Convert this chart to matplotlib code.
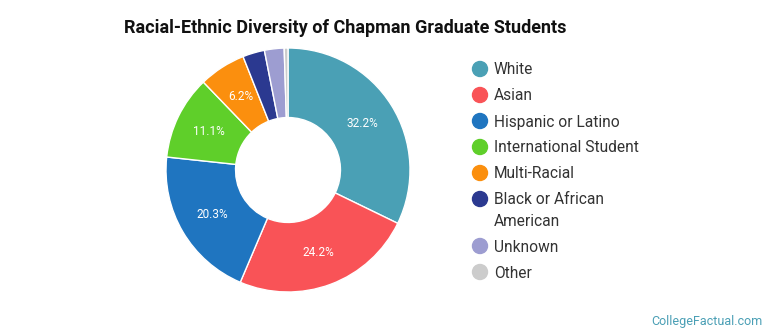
import matplotlib.pyplot as plt
from matplotlib.patches import Circle
import numpy as np

# --- data ---
categories = ['White', 'Asian', 'Hispanic or Latino', 'International Student',
              'Multi-Racial', 'Black or African\nAmerican', 'Unknown', 'Other']
shares = [32.2, 24.2, 20.3, 11.1, 6.2, 2.9, 2.6, 0.5]
colors = ['#4aa0b5', '#f95357', '#1f75c0', '#5fcf2a', '#fb8f0e',
          '#2b3990', '#9d9dd1', '#cccccc']

plt.rcParams['font.family'] = ['Roboto', 'DejaVu Sans']

fig = plt.figure(figsize=(7.7, 3.35), dpi=100)

# pie axes (center ~ (288,170) px, radius ~122 px)
ax = fig.add_axes([(288 - 122) / 770, 1 - (170 + 122) / 335, 244 / 770, 244 / 335])
wedges, _ = ax.pie(shares, colors=colors, startangle=90, counterclock=False,
                   radius=1.0, wedgeprops=dict(width=1 - 0.43, edgecolor='white', linewidth=1))

# percent labels on the larger slices
for w, v in zip(wedges, shares):
    if v < 5:
        continue
    ang = np.deg2rad((w.theta1 + w.theta2) / 2)
    r = 0.72
    ax.text(r * np.cos(ang), r * np.sin(ang), f'{v}%', ha='center', va='center',
            color='white', fontsize=8.5)
ax.set_xlim(-1, 1)
ax.set_ylim(-1, 1)
ax.set_aspect('equal')

# overlay in pixel coords for title and legend
ov = fig.add_axes([0, 0, 1, 1])
ov.set_xlim(0, 770)
ov.set_ylim(335, 0)
ov.axis('off')

ov.text(124, 28, 'Racial-Ethnic Diversity of Chapman Graduate Students',
        fontsize=13, fontweight='bold', color='#111111', va='center', ha='left')

y = 69
for name, c in zip(categories, colors):
    ov.add_patch(Circle((480, y), 7.5, color=c))
    ov.text(494, y + 1, name.split('\n')[0], fontsize=11.2, color='#333333', va='center', ha='left')
    if '\n' in name:
        y += 21
        ov.text(494, y + 1, name.split('\n')[1], fontsize=11.2, color='#333333', va='center', ha='left')
    y += 26

ov.text(763, 321, 'CollegeFactual.com', fontsize=9, color='#4a9fb5', ha='right', va='center')

fig.savefig('out.png', dpi=100)
